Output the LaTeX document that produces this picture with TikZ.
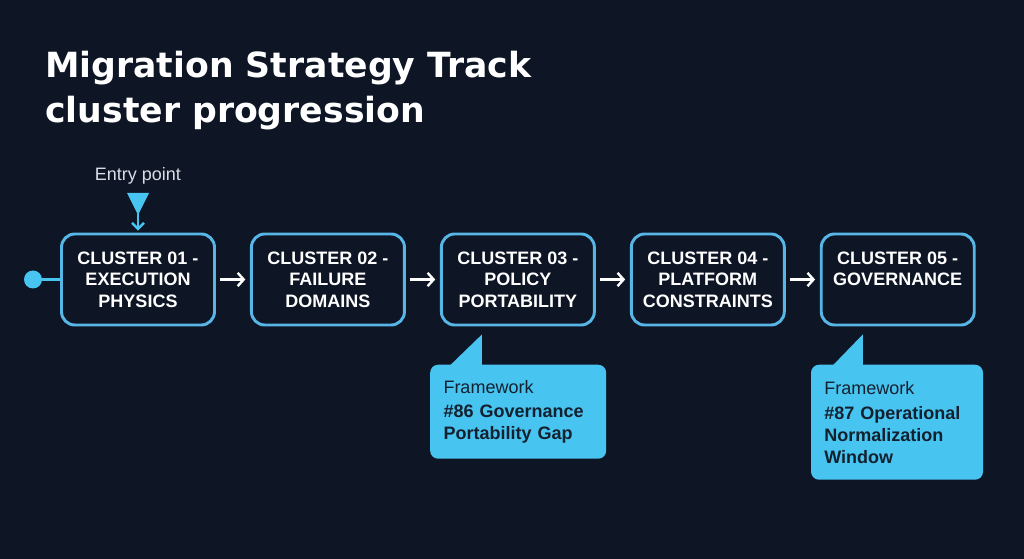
\documentclass[tikz,border=0pt]{standalone}
\usepackage{fontspec}
\setmainfont{Liberation Sans}
\newfontfamily\titlefont{DejaVu Sans}
\usetikzlibrary{arrows.meta,positioning,calc}
\definecolor{bgnavy}{HTML}{0E1525}
\definecolor{edgeblue}{HTML}{58B6E6}
\definecolor{callcyan}{HTML}{48C4F1}
\definecolor{fwtext}{HTML}{13202E}
\definecolor{entrygray}{HTML}{D9DEE6}
\tikzset{
  clbox/.style={draw=edgeblue, fill=bgnavy, rounded corners=10pt, line width=2.2pt, align=center, text=white, font=\fontsize{13.5}{16}\selectfont\bfseries, minimum width=114.75pt, minimum height=68.25pt, inner sep=0pt},
  fwbox/.style={fill=callcyan, rounded corners=6pt, align=left, text=fwtext, font=\fontsize{13.5}{16.5}\selectfont, inner xsep=10pt, inner ysep=0pt},
  clline/.style={-{Straight Barb[length=4.5pt,width=10pt]}, line width=1.8pt, white, shorten <=3pt, shorten >=3.5pt},
  entryline/.style={-{Straight Barb[length=4.5pt,width=9pt]}, line width=1.8pt, callcyan, shorten >=1.5pt}
}
\begin{document}
\begin{tikzpicture}[x=0.75pt, y=-0.75pt, node distance=25.5pt]
  \fill[bgnavy] (0,0) rectangle (1024,559);

  \node[anchor=north west, inner sep=0pt, align=left, text=white, font=\titlefont\fontsize{26}{33.75}\selectfont\bfseries] (title) at (45,51) {Migration Strategy Track\\cluster progression};

  \node[clbox] (c1) at (138,279.5) {CLUSTER 01 -\\EXECUTION\\PHYSICS};
  \node[clbox, right=of c1] (c2) {CLUSTER 02 -\\FAILURE\\DOMAINS};
  \node[clbox, right=of c2] (c3) {CLUSTER 03 -\\POLICY\\PORTABILITY};
  \node[clbox, right=of c3] (c4) {CLUSTER 04 -\\PLATFORM\\CONSTRAINTS};
  \node[clbox, right=of c4] (c5) {CLUSTER 05 -\\GOVERNANCE\\\mbox{}};

  \draw[clline] (c1) -- (c2);
  \draw[clline] (c2) -- (c3);
  \draw[clline] (c3) -- (c4);
  \draw[clline] (c4) -- (c5);

  % entry marker
  \node[circle, fill=callcyan, minimum size=13.5pt, inner sep=0pt] (start) at (33,279.5) {};
  \draw[callcyan, line width=1.8pt] (start) -- (c1.west);
  \node[anchor=base, text=entrygray, font=\fontsize{13.5}{16}\selectfont] (entry) at (138,181) {Entry point};
  \fill[callcyan] (127,193) -- (149,193) -- (138,215) -- cycle;
  \coordinate (tip) at (138,211);
  \draw[entryline] (tip) -- (c1.north);

  % framework callouts
  \node[fwbox, below=28.5pt of c3.south west, anchor=north west, xshift=-7.5pt, text width=112pt, minimum height=70.5pt] (fwa) {Framework\\[2pt]\textbf{\#86 Governance}\\\textbf{Portability Gap}};
  \node[fwbox, below=28.5pt of c5.south west, anchor=north west, xshift=-6.75pt, text width=109pt, minimum height=86.25pt] (fwb) {Framework\\[2pt]\textbf{\#87 Operational}\\\textbf{Normalization}\\\textbf{Window}};
  \fill[callcyan] ($(fwa.north west)+(52,-30)$) -- ($(fwa.north west)+(52,2)$) -- ($(fwa.north west)+(19,2)$) -- cycle;
  \fill[callcyan] ($(fwb.north west)+(52,-30)$) -- ($(fwb.north west)+(52,2)$) -- ($(fwb.north west)+(21,2)$) -- cycle;
\end{tikzpicture}
\end{document}
